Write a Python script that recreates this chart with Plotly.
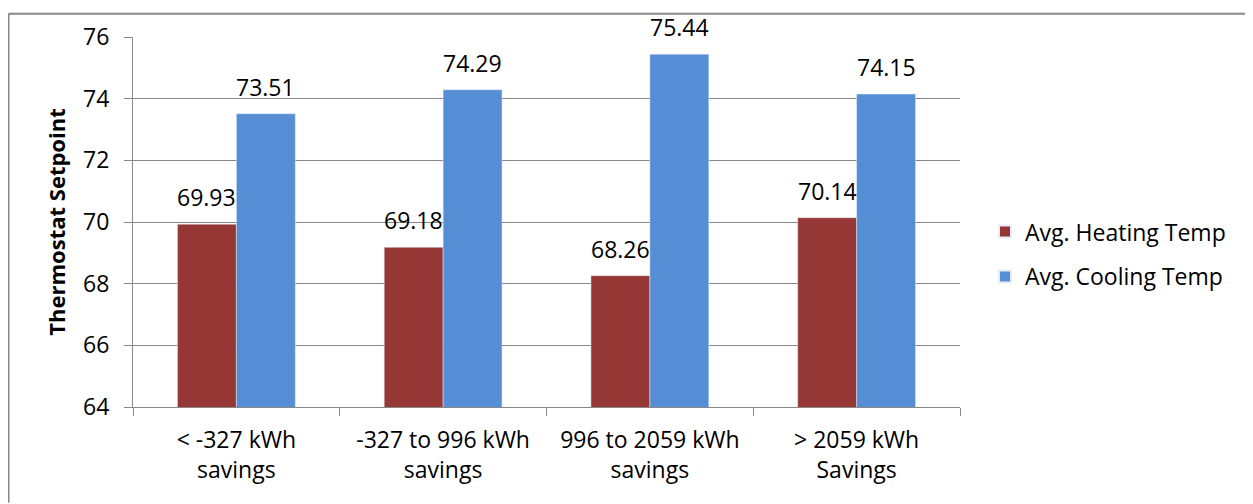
import plotly.graph_objects as go

categories = ["< -327 kWh<br>savings", "-327 to 996 kWh<br>savings", "996 to 2059 kWh<br>savings", "> 2059 kWh<br>Savings"]
heating = [69.93, 69.18, 68.26, 70.14]
cooling = [73.51, 74.29, 75.44, 74.15]
tick_vals = [64, 66, 68, 70, 72, 74, 76]

OFF = 8  # page body margin
W, H = 1253 - OFF, 504 - OFF
L, R, T, B = 133 - OFF, 960 - OFF, 32 - OFF, 407 - OFF
FONT = "Open Sans, Lato, sans-serif"
FS = 23
BARGAP = 0.43

fig = go.Figure()
fig.add_trace(go.Bar(name="Avg. Heating Temp", x=categories, y=heating, marker_color="#953735",
                     legendgroup="h"))
fig.add_trace(go.Bar(name="Avg. Cooling Temp", x=categories, y=cooling, marker_color="#558ED5",
                     legendgroup="c"))

# data labels, placed above each bar
bar_px = (R - L) / len(categories) * (1 - BARGAP) / 2
for vals, sgn in ((heating, -1), (cooling, 1)):
    for c, v in zip(categories, vals):
        fig.add_annotation(x=c, y=v, text=f"{v:.2f}", showarrow=False, xanchor="center",
                           yanchor="bottom", xshift=sgn * bar_px / 2, yshift=10, borderpad=0,
                           font=dict(size=FS, color="black", family=FONT))

fig.update_layout(
    width=W, height=H,
    margin=dict(l=L, r=W - R, t=T, b=H - B, pad=0),
    paper_bgcolor="white", plot_bgcolor="white",
    barmode="group", bargap=BARGAP, bargroupgap=0,
    font=dict(family=FONT, size=FS, color="black"),
    showlegend=True,
    legend=dict(x=(985 - OFF - L) / (R - L),
                y=(B - (252 - OFF)) / (B - T), xanchor="left", yanchor="middle",
                font=dict(size=FS), itemsizing="constant", tracegroupgap=12,
                bgcolor="rgba(0,0,0,0)"),
)
fig.update_yaxes(range=[64, 76], tickvals=tick_vals, showgrid=True, gridcolor="#888888", gridwidth=1,
                 showline=True, linecolor="#888888", linewidth=1, ticks="outside", ticklen=8,
                 tickcolor="#888888", tickfont=dict(size=FS), ticklabelstandoff=10,
                 title=dict(text="<b>Thermostat Setpoint</b>", font=dict(size=22), standoff=11))
fig.update_xaxes(showline=True, linecolor="#888888", linewidth=1, ticks="outside", ticklen=8,
                 tickcolor="#888888", tickson="boundaries", tickfont=dict(size=FS),
                 ticklabelstandoff=12)

# outer border (top and left)
bx = (0.5 - L) / (R - L)
by = (B - 0.5) / (B - T)
fig.add_shape(type="line", xref="paper", yref="paper", x0=bx, x1=(W - L) / (R - L),
              y0=by, y1=by, line=dict(color="#888888", width=2))
fig.add_shape(type="line", xref="paper", yref="paper", x0=bx, x1=bx,
              y0=by, y1=(B - H) / (B - T), line=dict(color="#888888", width=2))

fig.write_html("out.html")
